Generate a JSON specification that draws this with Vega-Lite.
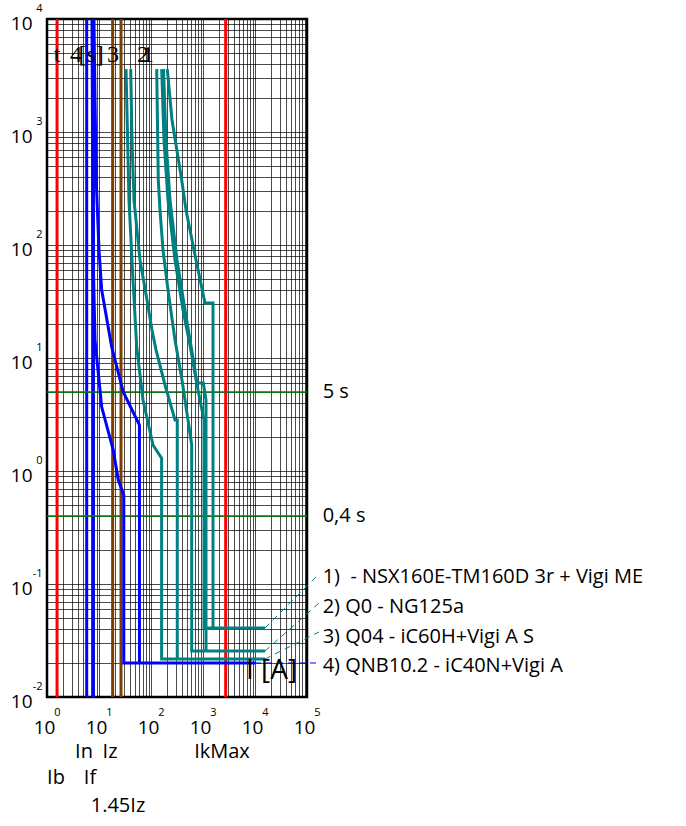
{
  "$schema": "https://vega.github.io/schema/vega-lite/v6.json",
  "width": 260,
  "height": 678,
  "autosize": {"type": "none"},
  "padding": {"left": 47, "top": 19, "right": 379, "bottom": 129},
  "background": "white",
  "config": {
    "view": {"stroke": "#000", "strokeWidth": 2.5},
    "font": "Open Sans",
    "axis": {"labelColor": "#000", "title": null, "ticks": false, "tickSize": 0, "domain": false, "labelFlush": false, "labelOverlap": false, "labelBound": false}
  },
  "datasets": {
    "markers": [
      {"name": "Ib", "I": 1.56},
      {"name": "In", "I": 5.8},
      {"name": "If", "I": 7.77},
      {"name": "Iz", "I": 18.3},
      {"name": "1.45Iz", "I": 26.5},
      {"name": "IkMax", "I": 2730}
    ],
    "hlines": [
      {"name": "5 s", "t": 5},
      {"name": "0,4 s", "t": 0.4}
    ],
    "curves": [
      {"dev": "4", "seg": "4max", "ord": 1, "I": 8.0, "t": 10000},
      {"dev": "4", "seg": "4max", "ord": 2, "I": 8.38, "t": 1919},
      {"dev": "4", "seg": "4max", "ord": 3, "I": 8.95, "t": 326},
      {"dev": "4", "seg": "4max", "ord": 4, "I": 10.0, "t": 90},
      {"dev": "4", "seg": "4max", "ord": 5, "I": 11.27, "t": 40},
      {"dev": "4", "seg": "4max", "ord": 6, "I": 17.55, "t": 12.5},
      {"dev": "4", "seg": "4max", "ord": 7, "I": 29.3, "t": 5.0},
      {"dev": "4", "seg": "4max", "ord": 8, "I": 60, "t": 2.55},
      {"dev": "4", "seg": "4max", "ord": 9, "I": 60, "t": 0.02},
      {"dev": "4", "seg": "4min", "ord": 1, "I": 7.33, "t": 10000},
      {"dev": "4", "seg": "4min", "ord": 2, "I": 7.67, "t": 90.3},
      {"dev": "4", "seg": "4min", "ord": 3, "I": 8.38, "t": 14.4},
      {"dev": "4", "seg": "4min", "ord": 4, "I": 11.27, "t": 3.68},
      {"dev": "4", "seg": "4min", "ord": 5, "I": 18.8, "t": 1.53},
      {"dev": "4", "seg": "4min", "ord": 6, "I": 23.5, "t": 0.832},
      {"dev": "4", "seg": "4min", "ord": 7, "I": 30, "t": 0.613},
      {"dev": "4", "seg": "4min", "ord": 8, "I": 30, "t": 0.02},
      {"dev": "4", "seg": "4min", "ord": 9, "I": 10000, "t": 0.02},
      {"dev": "3", "seg": "3min", "ord": 1, "I": 33.1, "t": 3600},
      {"dev": "3", "seg": "3min", "ord": 2, "I": 37.7, "t": 250},
      {"dev": "3", "seg": "3min", "ord": 3, "I": 45.1, "t": 49},
      {"dev": "3", "seg": "3min", "ord": 4, "I": 53.1, "t": 12.5},
      {"dev": "3", "seg": "3min", "ord": 5, "I": 70.2, "t": 4.25},
      {"dev": "3", "seg": "3min", "ord": 6, "I": 109.2, "t": 1.7},
      {"dev": "3", "seg": "3min", "ord": 7, "I": 160, "t": 1.3},
      {"dev": "3", "seg": "3min", "ord": 8, "I": 160, "t": 0.0217},
      {"dev": "3", "seg": "3min", "ord": 9, "I": 15560, "t": 0.0217},
      {"dev": "3", "seg": "3max", "ord": 1, "I": 40.7, "t": 3600},
      {"dev": "3", "seg": "3max", "ord": 2, "I": 43.1, "t": 850},
      {"dev": "3", "seg": "3max", "ord": 3, "I": 47.1, "t": 250},
      {"dev": "3", "seg": "3max", "ord": 4, "I": 61.4, "t": 73.7},
      {"dev": "3", "seg": "3max", "ord": 5, "I": 83.8, "t": 32.6},
      {"dev": "3", "seg": "3max", "ord": 6, "I": 104.5, "t": 17.7},
      {"dev": "3", "seg": "3max", "ord": 7, "I": 124.8, "t": 11.8},
      {"dev": "3", "seg": "3max", "ord": 8, "I": 185.9, "t": 5.77},
      {"dev": "3", "seg": "3max", "ord": 9, "I": 289.5, "t": 2.83},
      {"dev": "3", "seg": "3max", "ord": 10, "I": 320, "t": 2.83},
      {"dev": "3", "seg": "3max", "ord": 11, "I": 320, "t": 0.0217},
      {"dev": "2", "seg": "2min", "ord": 1, "I": 128.7, "t": 3600},
      {"dev": "2", "seg": "2min", "ord": 2, "I": 138.1, "t": 376},
      {"dev": "2", "seg": "2min", "ord": 3, "I": 148.9, "t": 204},
      {"dev": "2", "seg": "2min", "ord": 4, "I": 170.2, "t": 90.3},
      {"dev": "2", "seg": "2min", "ord": 5, "I": 212.3, "t": 40},
      {"dev": "2", "seg": "2min", "ord": 6, "I": 289.5, "t": 14.4},
      {"dev": "2", "seg": "2min", "ord": 7, "I": 394.5, "t": 6.39},
      {"dev": "2", "seg": "2min", "ord": 8, "I": 514.7, "t": 2.83},
      {"dev": "2", "seg": "2min", "ord": 9, "I": 606.4, "t": 1.7},
      {"dev": "2", "seg": "2min", "ord": 10, "I": 606.4, "t": 0.0255},
      {"dev": "2", "seg": "2min", "ord": 11, "I": 15560, "t": 0.0255},
      {"dev": "2", "seg": "2max", "ord": 1, "I": 160.6, "t": 3600},
      {"dev": "2", "seg": "2max", "ord": 2, "I": 177.8, "t": 850},
      {"dev": "2", "seg": "2max", "ord": 3, "I": 212.3, "t": 250},
      {"dev": "2", "seg": "2max", "ord": 4, "I": 289.5, "t": 73.7},
      {"dev": "2", "seg": "2max", "ord": 5, "I": 412.4, "t": 26.6},
      {"dev": "2", "seg": "2max", "ord": 6, "I": 562.3, "t": 13},
      {"dev": "2", "seg": "2max", "ord": 7, "I": 756.3, "t": 6.01},
      {"dev": "2", "seg": "2max", "ord": 8, "I": 1013, "t": 6.01},
      {"dev": "2", "seg": "2max", "ord": 9, "I": 1142, "t": 4.25},
      {"dev": "2", "seg": "2max", "ord": 10, "I": 1142, "t": 0.0255},
      {"dev": "1", "seg": "1min", "ord": 1, "I": 174, "t": 3600},
      {"dev": "1", "seg": "1min", "ord": 2, "I": 194.2, "t": 850},
      {"dev": "1", "seg": "1min", "ord": 3, "I": 231.9, "t": 250},
      {"dev": "1", "seg": "1min", "ord": 4, "I": 316.2, "t": 73.7},
      {"dev": "1", "seg": "1min", "ord": 5, "I": 450.7, "t": 26.6},
      {"dev": "1", "seg": "1min", "ord": 6, "I": 606.4, "t": 11.8},
      {"dev": "1", "seg": "1min", "ord": 7, "I": 801, "t": 5.21},
      {"dev": "1", "seg": "1min", "ord": 8, "I": 1045, "t": 2.83},
      {"dev": "1", "seg": "1min", "ord": 9, "I": 1045, "t": 0.0408},
      {"dev": "1", "seg": "1min", "ord": 10, "I": 15560, "t": 0.0408},
      {"dev": "1", "seg": "1max", "ord": 1, "I": 205.8, "t": 3600},
      {"dev": "1", "seg": "1max", "ord": 2, "I": 253.5, "t": 1277},
      {"dev": "1", "seg": "1max", "ord": 3, "I": 389.3, "t": 376},
      {"dev": "1", "seg": "1max", "ord": 4, "I": 471, "t": 204},
      {"dev": "1", "seg": "1max", "ord": 5, "I": 701.5, "t": 81.6},
      {"dev": "1", "seg": "1max", "ord": 6, "I": 1092, "t": 30.7},
      {"dev": "1", "seg": "1max", "ord": 7, "I": 1557, "t": 30.7},
      {"dev": "1", "seg": "1max", "ord": 8, "I": 1557, "t": 0.0408}
    ],
    "leaders": [
      {"dev": "1", "seg": "L1", "ord": 1, "I": 15560, "t": 0.0408},
      {"dev": "1", "seg": "L1", "ord": 2, "I": 170200, "t": 0.1226},
      {"dev": "2", "seg": "L2", "ord": 1, "I": 15560, "t": 0.0255},
      {"dev": "2", "seg": "L2", "ord": 2, "I": 170200, "t": 0.0679},
      {"dev": "3", "seg": "L3", "ord": 1, "I": 15560, "t": 0.0217},
      {"dev": "3", "seg": "L3", "ord": 2, "I": 170200, "t": 0.0376},
      {"dev": "4", "seg": "L4", "ord": 1, "I": 10000, "t": 0.02},
      {"dev": "4", "seg": "L4", "ord": 2, "I": 170200, "t": 0.02}
    ],
    "texts": [
      {"kind": "legend", "text": "1)\u00a0 - NSX160E-TM160D 3r + Vigi ME", "I": 200000, "t": 0.1153},
      {"kind": "legend", "text": "2) Q0 - NG125a", "I": 200000, "t": 0.063},
      {"kind": "legend", "text": "3) Q04 - iC60H+Vigi A S", "I": 200000, "t": 0.0342},
      {"kind": "legend", "text": "4) QNB10.2 - iC40N+Vigi A", "I": 200000, "t": 0.0188},
      {"kind": "legend", "text": "5 s", "I": 200000, "t": 5},
      {"kind": "legend", "text": "0,4 s", "I": 200000, "t": 0.4},
      {"kind": "below", "text": "Ib", "I": 1.49, "t": 0.00192},
      {"kind": "below", "text": "In", "I": 5.15, "t": 0.00326},
      {"kind": "below", "text": "Iz", "I": 16.3, "t": 0.00326},
      {"kind": "below", "text": "If", "I": 6.71, "t": 0.00192},
      {"kind": "below", "text": "1.45Iz", "I": 23.2, "t": 0.00108},
      {"kind": "below", "text": "IkMax", "I": 2318, "t": 0.00326},
      {"kind": "serif", "text": "t\u00a0\u00a0 [s]", "I": 4.1, "t": 4162},
      {"kind": "serif", "text": "4", "I": 3.61, "t": 4162},
      {"kind": "serif", "text": "3", "I": 18.6, "t": 4162},
      {"kind": "serif", "text": "2", "I": 70.2, "t": 4162},
      {"kind": "serif", "text": "1", "I": 87.5, "t": 4162},
      {"kind": "unit", "text": "I [A]", "I": 6714, "t": 0.017}
    ]
  },
  "layer": [
    {
      "data": {"name": "markers"},
      "mark": {"type": "rule", "strokeWidth": 3},
      "encoding": {
        "x": {"field": "I", "type": "quantitative", "scale": {"type": "log", "domain": [1, 100000]},
          "axis": {"orient": "bottom", "values": [1,2,3,4,5,6,7,8,9,10,20,30,40,50,60,70,80,90,100,200,300,400,500,600,700,800,900,1000,2000,3000,4000,5000,6000,7000,8000,9000,10000,20000,30000,40000,50000,60000,70000,80000,90000,100000],
            "grid": true, "gridColor": "#000", "gridOpacity": 0.7, "gridWidth": 1,
            "labelExpr": "abs(log(datum.value)/LN10 - round(log(datum.value)/LN10)) < 0.001 ? '10' : ''",
            "labelFontSize": 19, "labelPadding": 30, "labelBaseline": "middle", "labelAlign": "center", "labelOffset": -3}},
        "color": {"field": "name", "type": "nominal", "legend": null,
          "scale": {"domain": ["1","2","3","4","Ib","In","If","Iz","1.45Iz","IkMax","5 s","0,4 s"],
                    "range": ["#008080","#008080","#008080","#0000FF","#FF0000","#0000FF","#0000FF","#7B3F00","#7B3F00","#FF0000","#008000","#008000"]}}
      }
    },
    {
      "data": {"name": "hlines"},
      "mark": {"type": "rule", "strokeWidth": 1.5},
      "encoding": {
        "y": {"field": "t", "type": "quantitative", "scale": {"type": "log", "domain": [0.01, 10000]},
          "axis": {"orient": "left", "values": [0.01,0.02,0.03,0.04,0.05,0.06,0.07,0.08,0.09,0.1,0.2,0.3,0.4,0.5,0.6,0.7,0.8,0.9,1,2,3,4,5,6,7,8,9,10,20,30,40,50,60,70,80,90,100,200,300,400,500,600,700,800,900,1000,2000,3000,4000,5000,6000,7000,8000,9000,10000],
            "grid": true, "gridColor": "#000", "gridOpacity": 0.7, "gridWidth": 1,
            "labelExpr": "abs(log(datum.value)/LN10 - round(log(datum.value)/LN10)) < 0.001 ? '10' : ''",
            "labelFontSize": 19, "labelPadding": 15, "labelBaseline": "middle", "labelAlign": "right", "labelOffset": 4}},
        "color": {"field": "name", "type": "nominal", "legend": null,
          "scale": {"domain": ["1","2","3","4","Ib","In","If","Iz","1.45Iz","IkMax","5 s","0,4 s"],
                    "range": ["#008080","#008080","#008080","#0000FF","#FF0000","#0000FF","#0000FF","#7B3F00","#7B3F00","#FF0000","#008000","#008000"]}}
      }
    },
    {
      "data": {"name": "curves"},
      "mark": {"type": "line", "strokeWidth": 3, "strokeJoin": "miter"},
      "encoding": {
        "x": {"field": "I", "type": "quantitative", "scale": {"type": "log", "domain": [1, 100000]},
          "axis": {"orient": "bottom", "values": [1,10,100,1000,10000,100000], "grid": false,
            "labelExpr": "'' + round(log(datum.value)/LN10)",
            "labelFontSize": 11, "labelPadding": 15, "labelBaseline": "middle", "labelAlign": "center", "labelOffset": 10}},
        "y": {"field": "t", "type": "quantitative", "scale": {"type": "log", "domain": [0.01, 10000]},
          "axis": {"orient": "left", "values": [0.01,0.1,1,10,100,1000,10000], "grid": false,
            "labelExpr": "'' + round(log(datum.value)/LN10)",
            "labelFontSize": 11, "labelPadding": 5, "labelBaseline": "middle", "labelAlign": "right", "labelOffset": -11}},
        "color": {"field": "dev", "type": "nominal", "legend": null,
          "scale": {"domain": ["1","2","3","4","Ib","In","If","Iz","1.45Iz","IkMax","5 s","0,4 s"],
                    "range": ["#008080","#008080","#008080","#0000FF","#FF0000","#0000FF","#0000FF","#7B3F00","#7B3F00","#FF0000","#008000","#008000"]}},
        "detail": {"field": "seg"},
        "order": {"field": "ord", "type": "quantitative"}
      }
    },
    {
      "data": {"name": "leaders"},
      "mark": {"type": "line", "strokeWidth": 1, "strokeDash": [6, 5]},
      "encoding": {
        "x": {"field": "I", "type": "quantitative", "scale": {"type": "log", "domain": [1, 100000]}, "axis": null},
        "y": {"field": "t", "type": "quantitative", "scale": {"type": "log", "domain": [0.01, 10000]}, "axis": null},
        "color": {"field": "dev", "type": "nominal", "legend": null,
          "scale": {"domain": ["1","2","3","4","Ib","In","If","Iz","1.45Iz","IkMax","5 s","0,4 s"],
                    "range": ["#008080","#008080","#008080","#0000FF","#FF0000","#0000FF","#0000FF","#7B3F00","#7B3F00","#FF0000","#008000","#008000"]}},
        "detail": {"field": "seg"},
        "order": {"field": "ord", "type": "quantitative"}
      }
    },
    {
      "data": {"name": "texts"},
      "transform": [{"filter": "datum.kind == 'legend'"}],
      "mark": {"type": "text", "align": "left", "baseline": "middle", "fontSize": 20, "letterSpacing": 0.5, "font": "Open Sans", "color": "#000"},
      "encoding": {
        "x": {"field": "I", "type": "quantitative", "scale": {"type": "log", "domain": [1, 100000]}, "axis": null},
        "y": {"field": "t", "type": "quantitative", "scale": {"type": "log", "domain": [0.01, 10000]}, "axis": null},
        "text": {"field": "text"}
      }
    },
    {
      "data": {"name": "texts"},
      "transform": [{"filter": "datum.kind == 'below'"}],
      "mark": {"type": "text", "align": "center", "baseline": "middle", "fontSize": 20, "letterSpacing": 0.5, "font": "Open Sans", "color": "#000"},
      "encoding": {
        "x": {"field": "I", "type": "quantitative", "scale": {"type": "log", "domain": [1, 100000]}, "axis": null},
        "y": {"field": "t", "type": "quantitative", "scale": {"type": "log", "domain": [0.01, 10000]}, "axis": null},
        "text": {"field": "text"}
      }
    },
    {
      "data": {"name": "texts"},
      "transform": [{"filter": "datum.kind == 'serif'"}],
      "mark": {"type": "text", "align": "center", "baseline": "alphabetic", "fontSize": 24, "font": "Liberation Serif", "color": "#000"},
      "encoding": {
        "x": {"field": "I", "type": "quantitative", "scale": {"type": "log", "domain": [1, 100000]}, "axis": null},
        "y": {"field": "t", "type": "quantitative", "scale": {"type": "log", "domain": [0.01, 10000]}, "axis": null},
        "text": {"field": "text"}
      }
    },
    {
      "data": {"name": "texts"},
      "transform": [{"filter": "datum.kind == 'unit'"}],
      "mark": {"type": "text", "align": "left", "baseline": "middle", "fontSize": 28, "font": "Open Sans", "color": "#000"},
      "encoding": {
        "x": {"field": "I", "type": "quantitative", "scale": {"type": "log", "domain": [1, 100000]}, "axis": null},
        "y": {"field": "t", "type": "quantitative", "scale": {"type": "log", "domain": [0.01, 10000]}, "axis": null},
        "text": {"field": "text"}
      }
    }
  ],
  "resolve": {"axis": {"x": "independent", "y": "independent"}}
}
